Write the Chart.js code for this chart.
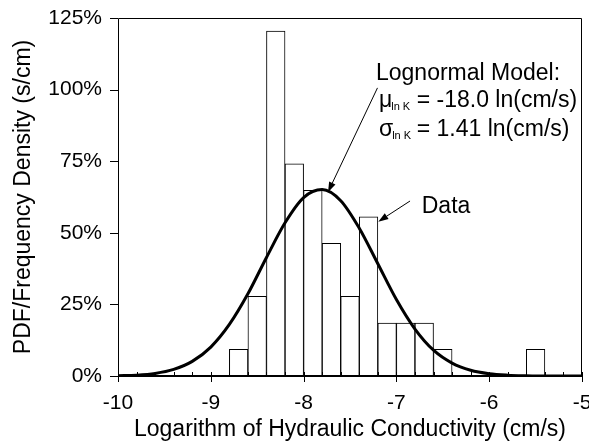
<!DOCTYPE html>
<html>
<head>
<meta charset="utf-8">
<script src="https://cdn.jsdelivr.net/npm/chart.js@4.4.0/dist/chart.umd.min.js"></script>
<style>
  html, body { margin: 0; padding: 0; background: #fff; overflow: hidden; }
  #wrap { width: 589px; height: 444px; }
</style>
</head>
<body>
<div id="wrap"><canvas id="chart"></canvas></div>
<script>
// histogram bins (0.2 wide, log10 K) and frequency density in %
const binCenters = [-8.7, -8.5, -8.3, -8.1, -7.9, -7.7, -7.5, -7.3, -7.1, -6.9, -6.7, -6.5, -5.5];
const freqDensity = [9.3, 27.8, 120.4, 74.1, 64.8, 46.3, 27.8, 55.6, 18.5, 18.5, 18.5, 9.3, 9.3];

// lognormal model curve
const pdfX = [-10, -9.8, -9.6, -9.4, -9.2, -9.0, -8.8, -8.6, -8.4, -8.2, -8.0, -7.8, -7.6,
              -7.4, -7.2, -7.0, -6.8, -6.6, -6.4, -6.2, -6.0, -5.8, -5.6, -5.4, -5.2, -5.0];
const pdfY = [0.1, 0.3, 0.9, 2.3, 5.1, 10.1, 18.0, 28.7, 41.4, 53.5, 62.3, 65.1, 61.2,
              51.6, 39.2, 26.7, 16.4, 9.0, 4.5, 2.0, 0.8, 0.3, 0.1, 0, 0, 0];

const xTickValues = [-10, -9, -8, -7, -6, -5];
const yTickValues = [0, 25, 50, 75, 100, 125];

const FONT = '"Liberation Sans", Arial, Helvetica, sans-serif';

function line(ctx, x1, y1, x2, y2) {
  ctx.beginPath();
  ctx.moveTo(x1, y1);
  ctx.lineTo(x2, y2);
  ctx.stroke();
}

function arrow(ctx, x1, y1, x2, y2) {
  const ang = Math.atan2(y2 - y1, x2 - x1);
  const len = 10, half = 3.5;
  const bx = x2 - len * Math.cos(ang), by = y2 - len * Math.sin(ang);
  ctx.lineWidth = 1;
  line(ctx, x1, y1, bx, by);
  ctx.beginPath();
  ctx.moveTo(x2, y2);
  ctx.lineTo(bx + half * Math.sin(ang), by - half * Math.cos(ang));
  ctx.lineTo(bx - half * Math.sin(ang), by + half * Math.cos(ang));
  ctx.closePath();
  ctx.fill();
}

const decor = {
  id: 'decor',
  afterDatasetsDraw(chart) {
    const { ctx, chartArea: a, scales: { x, y } } = chart;
    ctx.save();
    ctx.strokeStyle = '#000';
    ctx.fillStyle = '#000';

    // frame: left axis, top and right border
    ctx.lineWidth = 1;
    ctx.beginPath();
    ctx.moveTo(a.left + 0.5, a.bottom);
    ctx.lineTo(a.left + 0.5, a.top + 0.5);
    ctx.lineTo(a.right - 0.5, a.top + 0.5);
    ctx.lineTo(a.right - 0.5, a.bottom);
    ctx.stroke();

    // y ticks (outside)
    yTickValues.forEach(v => {
      const py = Math.round(y.getPixelForValue(v)) + 0.5;
      line(ctx, a.left - 8, py, a.left, py);
    });

    // x ticks: minor every 0.2 inside, major crossing
    for (let i = 0; i <= 25; i++) {
      const px = Math.round(x.getPixelForValue(-10 + i * 0.2)) + 0.5;
      const major = i % 5 === 0;
      line(ctx, px, a.bottom - 4, px, a.bottom + (major ? 6 : 0));
    }

    // x axis line
    ctx.lineWidth = 2;
    line(ctx, a.left, a.bottom, a.right, a.bottom);

    // annotation text
    const px = v => x.getPixelForValue(v);
    const py = v => y.getPixelForValue(v);
    ctx.textBaseline = 'alphabetic';
    ctx.textAlign = 'left';
    ctx.font = '23px ' + FONT;
    ctx.fillText('Lognormal Model:', px(-7.22), py(103.5));

    const symX = px(-7.188);
    const eqX = px(-6.781);
    const rows = [['\u03bc', '= -18.0 ln(cm/s)', 93.9], ['\u03c3', '= 1.41 ln(cm/s)', 83.8]];
    rows.forEach(([sym, rest, yv]) => {
      const b = py(yv);
      ctx.font = '23px ' + FONT;
      ctx.fillText(sym, symX, b);
      const w = ctx.measureText(sym).width;
      ctx.fillText(rest, eqX, b);
      ctx.font = '11px ' + FONT;
      ctx.fillText('ln K', symX + w - 1, b + 3);
    });

    ctx.font = '23px ' + FONT;
    ctx.fillText('Data', px(-6.727), py(56.9));

    // arrows
    arrow(ctx, px(-7.204), py(100.6), px(-7.737), py(64.2));
    arrow(ctx, px(-6.853), py(61.1), px(-7.195), py(53.9));

    ctx.restore();
  }
};

new Chart(document.getElementById('chart'), {
  data: {
    datasets: [
      {
        type: 'line',
        label: 'Lognormal Model',
        data: pdfX.map((v, i) => ({ x: v, y: pdfY[i] })),
        borderColor: '#000',
        borderWidth: 3,
        pointRadius: 0,
        fill: false,
        cubicInterpolationMode: 'monotone'
      },
      {
        type: 'bar',
        label: 'Data',
        data: binCenters.map((v, i) => ({ x: v, y: freqDensity[i] })),
        backgroundColor: '#fff',
        borderColor: '#000',
        borderWidth: 1,
        borderSkipped: false,
        barPercentage: 1,
        categoryPercentage: 1
      }
    ]
  },
  options: {
    responsive: true,
    maintainAspectRatio: false,
    animation: false,
    layout: { padding: { top: 18, right: 7, left: 0, bottom: 0 } },
    plugins: { legend: { display: false }, tooltip: { enabled: false } },
    scales: {
      x: {
        type: 'linear',
        min: -10,
        max: -5,
        offset: false,
        grid: { display: false, drawTicks: false, offset: false },
        border: { display: false },
        afterBuildTicks: s => { s.ticks = xTickValues.map(v => ({ value: v })); },
        afterFit: s => { s.paddingLeft = 0; s.paddingRight = 0; s.height = 68; },
        ticks: {
          color: '#000',
          font: { family: FONT, size: 21 },
          padding: 15,
          maxRotation: 0,
          autoSkip: false,
          callback: v => String(v)
        },
        title: {
          display: true,
          text: 'Logarithm of Hydraulic Conductivity (cm/s)',
          color: '#000',
          font: { family: FONT, size: 23 },
          padding: { top: 0, bottom: 1 }
        }
      },
      y: {
        min: 0,
        max: 125,
        grid: { display: false, drawTicks: false },
        border: { display: false },
        afterBuildTicks: s => { s.ticks = yTickValues.map(v => ({ value: v })); },
        afterFit: s => { s.width = 118; s.paddingTop = 0; s.paddingBottom = 0; },
        ticks: {
          color: '#000',
          font: { family: FONT, size: 21 },
          padding: 16,
          callback: v => v + '%'
        },
        title: {
          display: true,
          text: 'PDF/Frequency Density (s/cm)',
          color: '#000',
          font: { family: FONT, size: 23 },
          padding: { top: 10, bottom: 0 }
        }
      }
    }
  },
  plugins: [decor]
});
</script>
</body>
</html>
